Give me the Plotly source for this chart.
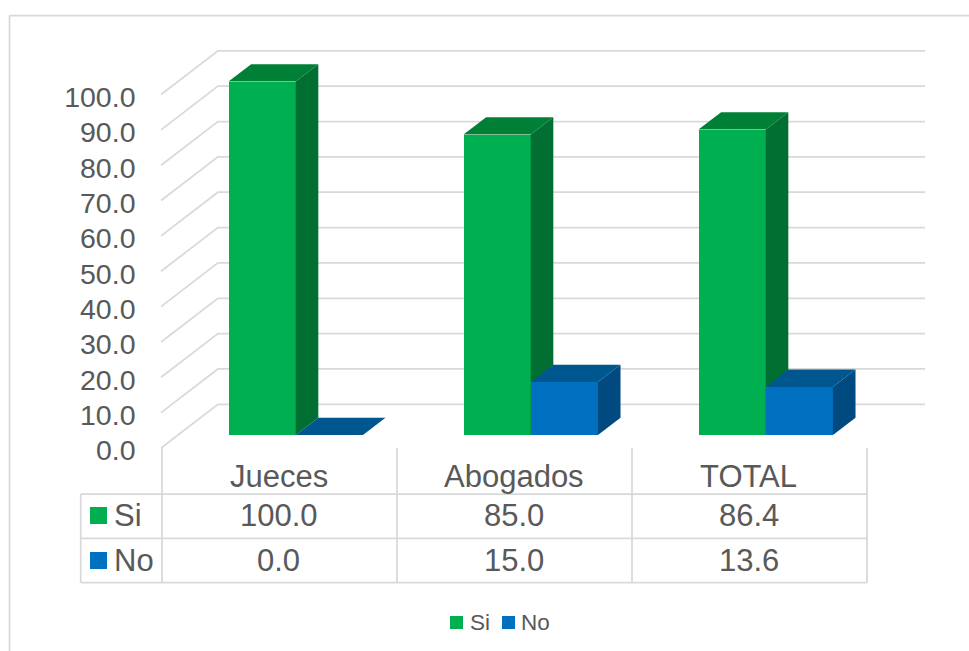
import plotly.graph_objects as go

categories = ["Jueces", "Abogados", "TOTAL"]
si_values = [100.0, 85.0, 86.4]
no_values = [0.0, 15.0, 13.6]
tick_values = [0, 10, 20, 30, 40, 50, 60, 70, 80, 90, 100]
series_names = ["Si", "No"]

W, H = 969, 651
TEXT = "#595959"
LINE = "#D9D9D9"
GREEN = "#00B050"
BLUE = "#0070C0"
FONT = "Liberation Sans, Arial, sans-serif"

# geometry of the pseudo-3D box, in axis units
UNIT = 3.535           # px per value unit
CAT = 235.0            # px per category
X0 = 279.5             # px of first category centre
BAR_W = 0.286
DEPTH_X = 0.0962
DEPTH_Y = 4.9
WALL_FRONT_Y = 0.71
WALL_BACK_Y = 13.07
WALL_LEFT_FRONT = -0.504
WALL_LEFT_BACK = -0.262
WALL_RIGHT = 2.747

xrange = [-X0 / CAT, (W - X0) / CAT]
def yrange(zero_px):
    return [(zero_px - H) / UNIT, zero_px / UNIT]

def px(x):
    return x / W
def py(y):
    return 1 - y / H

fig = go.Figure()

# back wall gridlines (on the labelled axis)
gx, gy = [], []
for v in tick_values:
    gx += [WALL_LEFT_FRONT, WALL_LEFT_BACK, WALL_RIGHT, None]
    gy += [v + WALL_FRONT_Y, v + WALL_BACK_Y, v + WALL_BACK_Y, None]
fig.add_trace(go.Scatter(x=gx, y=gy, mode="lines", line=dict(color=LINE, width=1.75),
                         showlegend=False, hoverinfo="skip", xaxis="x", yaxis="y"))

def add_series(name, values, offset, front, side, top, yaxis):
    fig.add_trace(go.Bar(x=list(range(len(values))), y=values, name=name, width=BAR_W, offset=offset,
                         marker=dict(color=front, line=dict(width=0)), showlegend=False,
                         xaxis="x", yaxis=yaxis))
    for i, v in enumerate(values):
        l = i + offset
        r = l + BAR_W
        fig.add_trace(go.Scatter(
            x=[r, r + DEPTH_X, r + DEPTH_X, r, r], y=[0, DEPTH_Y, v + DEPTH_Y, v, 0],
            mode="lines", fill="toself", fillcolor=side, line=dict(width=0, color=side),
            showlegend=False, hoverinfo="skip", xaxis="x", yaxis=yaxis))
        fig.add_trace(go.Scatter(
            x=[l, l + DEPTH_X, r + DEPTH_X, r, l], y=[v, v + DEPTH_Y, v + DEPTH_Y, v, v],
            mode="lines", fill="toself", fillcolor=top, line=dict(width=0, color=top),
            showlegend=False, hoverinfo="skip", xaxis="x", yaxis=yaxis))

add_series(series_names[0], si_values, -0.217, GREEN, "#006F31", "#008037", "y2")
add_series(series_names[1], no_values, 0.069, BLUE, "#004A80", "#00568F", "y3")

# frame, table grid, table keys, bottom key
shapes = []

def seg(x0, y0, x1, y1, w=1.75):
    shapes.append(dict(type="line", xref="paper", yref="paper", x0=px(x0), y0=py(y0), x1=px(x1), y1=py(y1),
                       line=dict(color=LINE, width=w), layer="below"))

def swatch(x, y, size, color):
    shapes.append(dict(type="rect", xref="paper", yref="paper", x0=px(x), x1=px(x + size), y0=py(y),
                       y1=py(y + size), fillcolor=color, line=dict(width=0)))

seg(9.5, 15.5, W, 15.5)
seg(9.5, 15.5, 9.5, H)
for y in (494, 538.3, 582.7):
    seg(80.7, y, 867, y)
seg(80.7, 494, 80.7, 582.7)
for x in (162, 397, 632, 867):
    seg(x, 448, x, 582.7)
swatch(90, 507, 17, GREEN)
swatch(90, 552, 17, BLUE)
swatch(450, 616, 13, GREEN)
swatch(502, 616, 13, BLUE)

anns = []
def label(text, x, y, anchor="center", size=31):
    anns.append(dict(text=text, x=px(x), y=py(y), xref="paper", yref="paper", showarrow=False,
                     xanchor=anchor, yanchor="middle", font=dict(family=FONT, size=size, color=TEXT)))

for i, c in enumerate(categories):
    cx = X0 + CAT * i
    label(c, cx - 1, 476.5)
    label(f"{si_values[i]:.1f}", cx - 1, 515.5)
    label(f"{no_values[i]:.1f}", cx - 1, 560)
label(series_names[0], 112, 515.5, "left")
label(series_names[1], 112, 560, "left")
label(series_names[0], 468, 622, "left", 22.5)
label(series_names[1], 519, 622, "left", 22.5)

hidden = dict(visible=False, overlaying="y", fixedrange=True)
fig.update_layout(
    width=W, height=H, margin=dict(l=0, r=0, t=0, b=0), paper_bgcolor="white", plot_bgcolor="rgba(0,0,0,0)",
    barmode="overlay", bargap=0, shapes=shapes, annotations=anns, showlegend=False,
    font=dict(family=FONT, color=TEXT),
    xaxis=dict(visible=False, range=xrange, domain=[0, 1], fixedrange=True),
    yaxis=dict(range=yrange(450.5), tickvals=tick_values, tickformat=".1f", showgrid=False, zeroline=False,
               showline=False, ticks="", anchor="free", position=135.5 / W, side="left", fixedrange=True,
               tickfont=dict(family=FONT, size=28.5, color=TEXT)),
    yaxis2=dict(range=yrange(435), **hidden),
    yaxis3=dict(range=yrange(435), **hidden),
)

fig.write_html("out.html", config=dict(displayModeBar=False),
               post_script="document.body.style.margin='0';document.body.style.overflow='hidden';")
